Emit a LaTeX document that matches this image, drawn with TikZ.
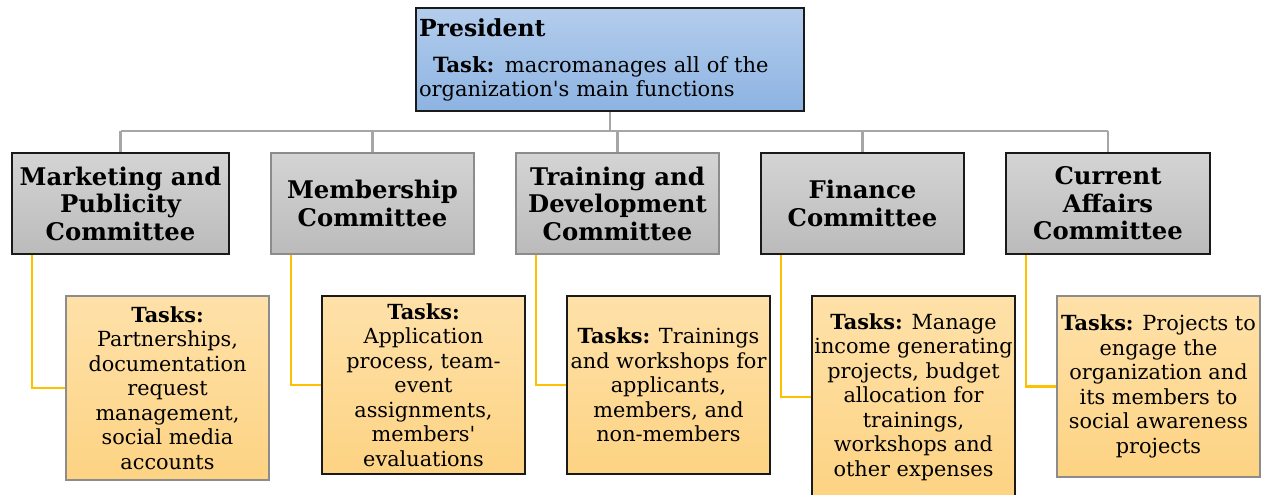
\documentclass[tikz,border=0pt]{standalone}
\usepackage{fontspec}
\setmainfont{DejaVu Serif}
\definecolor{presTop}{HTML}{B3CDEC}
\definecolor{presBot}{HTML}{8DB3E2}
\definecolor{comTop}{HTML}{D4D4D4}
\definecolor{comBot}{HTML}{BBBBBB}
\definecolor{taskTop}{HTML}{FEE1A9}
\definecolor{taskBot}{HTML}{FDD383}
\definecolor{busGray}{HTML}{A6A6A6}
\definecolor{linkYellow}{HTML}{FFC000}
\definecolor{darkEdge}{HTML}{1A1A1A}
\definecolor{grayEdge}{HTML}{8C8C8C}
\tikzset{
  presbox/.style={draw=darkEdge, line width=1.5pt, top color=presTop, bottom color=presBot,
    minimum width=388pt, minimum height=103pt, inner sep=3pt, text width=382pt, align=left,
    font=\fontsize{21}{24}\selectfont},
  combox/.style={line width=1.5pt, top color=comTop, bottom color=comBot,
    minimum width=217pt, minimum height=101pt, inner sep=0pt, align=center,
    font=\fontsize{24.3}{27.5}\selectfont\bfseries},
  taskbox/.style={line width=1.5pt, top color=taskTop, bottom color=taskBot,
    minimum width=203pt, inner sep=0pt, align=center,
    font=\fontsize{20.8}{24.5}\selectfont},
  bus/.style={draw=busGray, line width=2.6pt},
  link/.style={draw=linkYellow, line width=2.4pt},
}
\begin{document}
\begin{tikzpicture}[x=1pt,y=-1pt]
\useasboundingbox (0,0) rectangle (1270,495);
% president
\node[presbox] (pres) at (610,59.5) {{\fontsize{23.5}{27}\selectfont\bfseries President}\\[12pt]
\hspace*{14pt}\textbf{Task:} macromanages all of the\\organization\textquotesingle s main functions};
% committees
\node[combox, draw=darkEdge, minimum width=217pt] (c1) at (120.5,203.5) {Marketing and\\Publicity\\Committee};
\node[combox, draw=grayEdge, minimum width=203pt] (c2) at (372.5,203.5) {Membership\\Committee};
\node[combox, draw=grayEdge, minimum width=203pt] (c3) at (617.5,203.5) {Training and\\Development\\Committee};
\node[combox, draw=darkEdge, minimum width=203pt] (c4) at (862.5,203.5) {Finance\\Committee};
\node[combox, draw=darkEdge, minimum width=204pt] (c5) at (1108,203.5) {Current\\Affairs\\Committee};
% tasks
\node[taskbox, draw=grayEdge, minimum height=184pt] (t1) at (167.5,388) {\textbf{Tasks:}\\Partnerships,\\documentation\\request\\management,\\social media\\accounts};
\node[taskbox, draw=darkEdge, minimum height=178pt] (t2) at (423.5,385) {\textbf{Tasks:}\\Application\\process, team-\\event\\assignments,\\members\textquotesingle\\evaluations};
\node[taskbox, draw=darkEdge, minimum height=178pt] (t3) at (668.5,385) {\textbf{Tasks:} Trainings\\and workshops for\\applicants,\\members, and\\non-members};
\node[taskbox, draw=darkEdge, minimum height=202pt] (t4) at (913.5,397) {\textbf{Tasks:} Manage\\income generating\\projects, budget\\allocation for\\trainings,\\workshops and\\other expenses};
\node[taskbox, draw=grayEdge, minimum height=181pt] (t5) at (1158.5,386.5) {\textbf{Tasks:} Projects to\\engage the\\organization and\\its members to\\social awareness\\projects};
% gray bus
\coordinate (bus) at (610,131);
\draw[bus] (pres.south) -- (bus);
\draw[bus] (c1.north |- bus) -- (c5.north |- bus);
\foreach \c in {c1,c2,c3,c4,c5} { \draw[bus] (\c.north |- bus) -- (\c.north); }
% yellow links
\foreach \c/\t in {c1/t1,c2/t2,c3/t3,c4/t4,c5/t5} {
  \draw[link] ([xshift=21pt]\c.south west) |- (\t.west);
}
\end{tikzpicture}
\end{document}
